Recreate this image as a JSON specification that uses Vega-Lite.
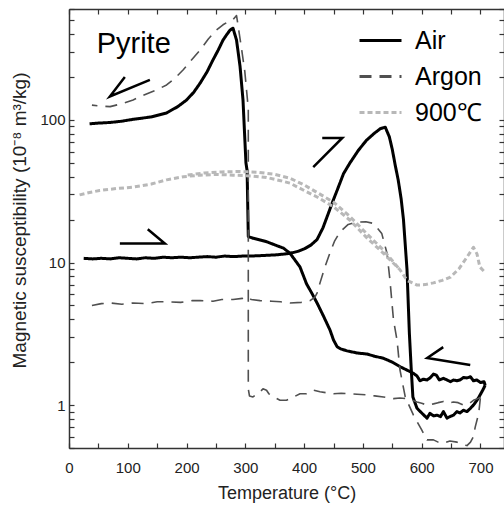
{
  "$schema": "https://vega.github.io/schema/vega-lite/v6.json",
  "width": 435,
  "height": 439,
  "autosize": {"type": "none"},
  "padding": {"left": 69, "top": 9, "right": 0, "bottom": 57},
  "background": "white",
  "config": {
    "font": "Liberation Sans",
    "view": {"stroke": null},
    "axis": {
      "domainColor": "#333333",
      "domainWidth": 1.5,
      "tickColor": "#333333",
      "tickWidth": 1.2,
      "tickSize": -5,
      "labelColor": "#222222",
      "titleColor": "#222222",
      "grid": false,
      "labelFont": "Liberation Sans",
      "titleFont": "Liberation Sans",
      "titleFontWeight": "normal",
      "labelFontSize": 15,
      "titleFontSize": 18,
      "labelFlush": false,
      "labelOverlap": false
    }
  },
  "datasets": {
    "curves": [
      {"m": "Air", "run": "heating", "T": 25, "chi": 10.7},
      {"m": "Air", "run": "heating", "T": 40, "chi": 10.6},
      {"m": "Air", "run": "heating", "T": 55, "chi": 10.7},
      {"m": "Air", "run": "heating", "T": 70, "chi": 10.6},
      {"m": "Air", "run": "heating", "T": 85, "chi": 10.8},
      {"m": "Air", "run": "heating", "T": 100, "chi": 10.7},
      {"m": "Air", "run": "heating", "T": 115, "chi": 10.6},
      {"m": "Air", "run": "heating", "T": 130, "chi": 10.8},
      {"m": "Air", "run": "heating", "T": 145, "chi": 10.7},
      {"m": "Air", "run": "heating", "T": 160, "chi": 10.9},
      {"m": "Air", "run": "heating", "T": 175, "chi": 10.8},
      {"m": "Air", "run": "heating", "T": 190, "chi": 10.9},
      {"m": "Air", "run": "heating", "T": 205, "chi": 10.8},
      {"m": "Air", "run": "heating", "T": 220, "chi": 10.9},
      {"m": "Air", "run": "heating", "T": 235, "chi": 11.0},
      {"m": "Air", "run": "heating", "T": 250, "chi": 10.9},
      {"m": "Air", "run": "heating", "T": 265, "chi": 11.1},
      {"m": "Air", "run": "heating", "T": 280, "chi": 11.0},
      {"m": "Air", "run": "heating", "T": 295, "chi": 11.1},
      {"m": "Air", "run": "heating", "T": 310, "chi": 11.1},
      {"m": "Air", "run": "heating", "T": 330, "chi": 11.2},
      {"m": "Air", "run": "heating", "T": 350, "chi": 11.3},
      {"m": "Air", "run": "heating", "T": 365, "chi": 11.45},
      {"m": "Air", "run": "heating", "T": 376, "chi": 11.6},
      {"m": "Air", "run": "heating", "T": 390, "chi": 12.0},
      {"m": "Air", "run": "heating", "T": 401, "chi": 12.5},
      {"m": "Air", "run": "heating", "T": 412, "chi": 13.3},
      {"m": "Air", "run": "heating", "T": 422, "chi": 14.5},
      {"m": "Air", "run": "heating", "T": 432, "chi": 17.5},
      {"m": "Air", "run": "heating", "T": 441, "chi": 22},
      {"m": "Air", "run": "heating", "T": 449, "chi": 27},
      {"m": "Air", "run": "heating", "T": 456, "chi": 32},
      {"m": "Air", "run": "heating", "T": 467, "chi": 42},
      {"m": "Air", "run": "heating", "T": 478, "chi": 50},
      {"m": "Air", "run": "heating", "T": 492, "chi": 61},
      {"m": "Air", "run": "heating", "T": 506, "chi": 72},
      {"m": "Air", "run": "heating", "T": 520, "chi": 81},
      {"m": "Air", "run": "heating", "T": 530, "chi": 87},
      {"m": "Air", "run": "heating", "T": 538, "chi": 89},
      {"m": "Air", "run": "heating", "T": 545, "chi": 76},
      {"m": "Air", "run": "heating", "T": 550, "chi": 62},
      {"m": "Air", "run": "heating", "T": 555, "chi": 48},
      {"m": "Air", "run": "heating", "T": 560, "chi": 38},
      {"m": "Air", "run": "heating", "T": 565, "chi": 28},
      {"m": "Air", "run": "heating", "T": 569, "chi": 20},
      {"m": "Air", "run": "heating", "T": 575, "chi": 8.9},
      {"m": "Air", "run": "heating", "T": 579, "chi": 3.2},
      {"m": "Air", "run": "heating", "T": 582, "chi": 1.85},
      {"m": "Air", "run": "heating", "T": 585, "chi": 1.14},
      {"m": "Air", "run": "heating", "T": 592, "chi": 0.95},
      {"m": "Air", "run": "heating", "T": 600, "chi": 0.88},
      {"m": "Air", "run": "heating", "T": 609, "chi": 0.81},
      {"m": "Air", "run": "heating", "T": 614, "chi": 0.875},
      {"m": "Air", "run": "heating", "T": 620, "chi": 0.84},
      {"m": "Air", "run": "heating", "T": 626, "chi": 0.85},
      {"m": "Air", "run": "heating", "T": 632, "chi": 0.83},
      {"m": "Air", "run": "heating", "T": 637, "chi": 0.9},
      {"m": "Air", "run": "heating", "T": 643, "chi": 0.81},
      {"m": "Air", "run": "heating", "T": 648, "chi": 0.83},
      {"m": "Air", "run": "heating", "T": 654, "chi": 0.85},
      {"m": "Air", "run": "heating", "T": 660, "chi": 0.9},
      {"m": "Air", "run": "heating", "T": 665, "chi": 0.88},
      {"m": "Air", "run": "heating", "T": 671, "chi": 0.92},
      {"m": "Air", "run": "heating", "T": 677, "chi": 0.9},
      {"m": "Air", "run": "heating", "T": 683, "chi": 0.95},
      {"m": "Air", "run": "heating", "T": 688, "chi": 1.0},
      {"m": "Air", "run": "heating", "T": 694, "chi": 1.08},
      {"m": "Air", "run": "heating", "T": 699, "chi": 1.17},
      {"m": "Air", "run": "heating", "T": 705, "chi": 1.3},
      {"m": "Air", "run": "heating", "T": 708, "chi": 1.38},
      {"m": "Air", "run": "cooling", "T": 708, "chi": 1.38},
      {"m": "Air", "run": "cooling", "T": 706, "chi": 1.46},
      {"m": "Air", "run": "cooling", "T": 700, "chi": 1.44},
      {"m": "Air", "run": "cooling", "T": 694, "chi": 1.5},
      {"m": "Air", "run": "cooling", "T": 688, "chi": 1.48},
      {"m": "Air", "run": "cooling", "T": 683, "chi": 1.58},
      {"m": "Air", "run": "cooling", "T": 677, "chi": 1.55},
      {"m": "Air", "run": "cooling", "T": 671, "chi": 1.56},
      {"m": "Air", "run": "cooling", "T": 665, "chi": 1.5},
      {"m": "Air", "run": "cooling", "T": 660, "chi": 1.48},
      {"m": "Air", "run": "cooling", "T": 654, "chi": 1.5},
      {"m": "Air", "run": "cooling", "T": 649, "chi": 1.46},
      {"m": "Air", "run": "cooling", "T": 643, "chi": 1.5},
      {"m": "Air", "run": "cooling", "T": 637, "chi": 1.54},
      {"m": "Air", "run": "cooling", "T": 630, "chi": 1.5},
      {"m": "Air", "run": "cooling", "T": 625, "chi": 1.62},
      {"m": "Air", "run": "cooling", "T": 620, "chi": 1.65},
      {"m": "Air", "run": "cooling", "T": 614, "chi": 1.55},
      {"m": "Air", "run": "cooling", "T": 609, "chi": 1.5},
      {"m": "Air", "run": "cooling", "T": 603, "chi": 1.52},
      {"m": "Air", "run": "cooling", "T": 597, "chi": 1.48},
      {"m": "Air", "run": "cooling", "T": 592, "chi": 1.6},
      {"m": "Air", "run": "cooling", "T": 586, "chi": 1.67},
      {"m": "Air", "run": "cooling", "T": 575, "chi": 1.76},
      {"m": "Air", "run": "cooling", "T": 563, "chi": 1.86},
      {"m": "Air", "run": "cooling", "T": 550, "chi": 2.0},
      {"m": "Air", "run": "cooling", "T": 535, "chi": 2.13},
      {"m": "Air", "run": "cooling", "T": 520, "chi": 2.2},
      {"m": "Air", "run": "cooling", "T": 507, "chi": 2.28},
      {"m": "Air", "run": "cooling", "T": 490, "chi": 2.32},
      {"m": "Air", "run": "cooling", "T": 473, "chi": 2.4},
      {"m": "Air", "run": "cooling", "T": 462, "chi": 2.48},
      {"m": "Air", "run": "cooling", "T": 456, "chi": 2.57},
      {"m": "Air", "run": "cooling", "T": 450, "chi": 2.86},
      {"m": "Air", "run": "cooling", "T": 444, "chi": 3.36},
      {"m": "Air", "run": "cooling", "T": 433, "chi": 4.2},
      {"m": "Air", "run": "cooling", "T": 422, "chi": 5.2},
      {"m": "Air", "run": "cooling", "T": 413, "chi": 6.1},
      {"m": "Air", "run": "cooling", "T": 404, "chi": 7.1},
      {"m": "Air", "run": "cooling", "T": 393, "chi": 9.3},
      {"m": "Air", "run": "cooling", "T": 376, "chi": 11.6},
      {"m": "Air", "run": "cooling", "T": 365, "chi": 12.6},
      {"m": "Air", "run": "cooling", "T": 350, "chi": 13.3},
      {"m": "Air", "run": "cooling", "T": 336, "chi": 14.0},
      {"m": "Air", "run": "cooling", "T": 325, "chi": 14.4},
      {"m": "Air", "run": "cooling", "T": 313, "chi": 14.8},
      {"m": "Air", "run": "cooling", "T": 305, "chi": 15.2},
      {"m": "Air", "run": "cooling", "T": 303, "chi": 44},
      {"m": "Air", "run": "cooling", "T": 301, "chi": 50},
      {"m": "Air", "run": "cooling", "T": 296, "chi": 138},
      {"m": "Air", "run": "cooling", "T": 291, "chi": 237},
      {"m": "Air", "run": "cooling", "T": 285, "chi": 363},
      {"m": "Air", "run": "cooling", "T": 279, "chi": 440},
      {"m": "Air", "run": "cooling", "T": 274, "chi": 427},
      {"m": "Air", "run": "cooling", "T": 268, "chi": 395},
      {"m": "Air", "run": "cooling", "T": 262, "chi": 363},
      {"m": "Air", "run": "cooling", "T": 254, "chi": 310},
      {"m": "Air", "run": "cooling", "T": 245, "chi": 264},
      {"m": "Air", "run": "cooling", "T": 235, "chi": 218},
      {"m": "Air", "run": "cooling", "T": 223, "chi": 181},
      {"m": "Air", "run": "cooling", "T": 212, "chi": 156},
      {"m": "Air", "run": "cooling", "T": 200, "chi": 138},
      {"m": "Air", "run": "cooling", "T": 185, "chi": 124},
      {"m": "Air", "run": "cooling", "T": 166, "chi": 112},
      {"m": "Air", "run": "cooling", "T": 140, "chi": 105},
      {"m": "Air", "run": "cooling", "T": 109, "chi": 101},
      {"m": "Air", "run": "cooling", "T": 90, "chi": 98},
      {"m": "Air", "run": "cooling", "T": 70, "chi": 96},
      {"m": "Air", "run": "cooling", "T": 50, "chi": 95},
      {"m": "Air", "run": "cooling", "T": 35, "chi": 94},

      {"m": "Argon", "run": "heating", "T": 39, "chi": 5.0},
      {"m": "Argon", "run": "heating", "T": 55, "chi": 5.15},
      {"m": "Argon", "run": "heating", "T": 70, "chi": 5.2},
      {"m": "Argon", "run": "heating", "T": 90, "chi": 5.1},
      {"m": "Argon", "run": "heating", "T": 109, "chi": 5.2},
      {"m": "Argon", "run": "heating", "T": 130, "chi": 5.15},
      {"m": "Argon", "run": "heating", "T": 150, "chi": 5.3},
      {"m": "Argon", "run": "heating", "T": 166, "chi": 5.3},
      {"m": "Argon", "run": "heating", "T": 190, "chi": 5.25},
      {"m": "Argon", "run": "heating", "T": 210, "chi": 5.4},
      {"m": "Argon", "run": "heating", "T": 223, "chi": 5.4},
      {"m": "Argon", "run": "heating", "T": 245, "chi": 5.35},
      {"m": "Argon", "run": "heating", "T": 260, "chi": 5.5},
      {"m": "Argon", "run": "heating", "T": 279, "chi": 5.5},
      {"m": "Argon", "run": "heating", "T": 295, "chi": 5.6},
      {"m": "Argon", "run": "heating", "T": 302, "chi": 5.75},
      {"m": "Argon", "run": "heating", "T": 310, "chi": 5.5},
      {"m": "Argon", "run": "heating", "T": 325, "chi": 5.4},
      {"m": "Argon", "run": "heating", "T": 345, "chi": 5.35},
      {"m": "Argon", "run": "heating", "T": 360, "chi": 5.3},
      {"m": "Argon", "run": "heating", "T": 376, "chi": 5.2},
      {"m": "Argon", "run": "heating", "T": 395, "chi": 5.25},
      {"m": "Argon", "run": "heating", "T": 410, "chi": 5.4},
      {"m": "Argon", "run": "heating", "T": 418, "chi": 5.7},
      {"m": "Argon", "run": "heating", "T": 422, "chi": 6.1},
      {"m": "Argon", "run": "heating", "T": 427, "chi": 7.2},
      {"m": "Argon", "run": "heating", "T": 435, "chi": 9.2},
      {"m": "Argon", "run": "heating", "T": 444, "chi": 11.7},
      {"m": "Argon", "run": "heating", "T": 452, "chi": 14.2},
      {"m": "Argon", "run": "heating", "T": 461, "chi": 16.4},
      {"m": "Argon", "run": "heating", "T": 475, "chi": 18.5},
      {"m": "Argon", "run": "heating", "T": 490, "chi": 19.2},
      {"m": "Argon", "run": "heating", "T": 505, "chi": 19.3},
      {"m": "Argon", "run": "heating", "T": 518, "chi": 18.8},
      {"m": "Argon", "run": "heating", "T": 532, "chi": 16.0},
      {"m": "Argon", "run": "heating", "T": 541, "chi": 11.6},
      {"m": "Argon", "run": "heating", "T": 546, "chi": 7.5},
      {"m": "Argon", "run": "heating", "T": 552, "chi": 3.95},
      {"m": "Argon", "run": "heating", "T": 558, "chi": 2.86},
      {"m": "Argon", "run": "heating", "T": 563, "chi": 1.77},
      {"m": "Argon", "run": "heating", "T": 572, "chi": 1.14},
      {"m": "Argon", "run": "heating", "T": 586, "chi": 0.85},
      {"m": "Argon", "run": "heating", "T": 600, "chi": 0.67},
      {"m": "Argon", "run": "heating", "T": 609, "chi": 0.57},
      {"m": "Argon", "run": "heating", "T": 620, "chi": 0.57},
      {"m": "Argon", "run": "heating", "T": 628, "chi": 0.55},
      {"m": "Argon", "run": "heating", "T": 637, "chi": 0.54},
      {"m": "Argon", "run": "heating", "T": 648, "chi": 0.56},
      {"m": "Argon", "run": "heating", "T": 660, "chi": 0.55},
      {"m": "Argon", "run": "heating", "T": 668, "chi": 0.53},
      {"m": "Argon", "run": "heating", "T": 677, "chi": 0.52},
      {"m": "Argon", "run": "heating", "T": 683, "chi": 0.55},
      {"m": "Argon", "run": "heating", "T": 688, "chi": 0.6},
      {"m": "Argon", "run": "heating", "T": 691, "chi": 0.7},
      {"m": "Argon", "run": "heating", "T": 697, "chi": 0.875},
      {"m": "Argon", "run": "heating", "T": 700, "chi": 1.14},
      {"m": "Argon", "run": "cooling", "T": 700, "chi": 1.14},
      {"m": "Argon", "run": "cooling", "T": 698, "chi": 1.12},
      {"m": "Argon", "run": "cooling", "T": 688, "chi": 1.08},
      {"m": "Argon", "run": "cooling", "T": 680, "chi": 1.02},
      {"m": "Argon", "run": "cooling", "T": 671, "chi": 1.0},
      {"m": "Argon", "run": "cooling", "T": 662, "chi": 1.04},
      {"m": "Argon", "run": "cooling", "T": 654, "chi": 1.05},
      {"m": "Argon", "run": "cooling", "T": 645, "chi": 1.03},
      {"m": "Argon", "run": "cooling", "T": 637, "chi": 1.06},
      {"m": "Argon", "run": "cooling", "T": 628, "chi": 1.04},
      {"m": "Argon", "run": "cooling", "T": 620, "chi": 1.02},
      {"m": "Argon", "run": "cooling", "T": 609, "chi": 1.0},
      {"m": "Argon", "run": "cooling", "T": 600, "chi": 1.03},
      {"m": "Argon", "run": "cooling", "T": 592, "chi": 1.05},
      {"m": "Argon", "run": "cooling", "T": 584, "chi": 1.08},
      {"m": "Argon", "run": "cooling", "T": 575, "chi": 1.11},
      {"m": "Argon", "run": "cooling", "T": 563, "chi": 1.12},
      {"m": "Argon", "run": "cooling", "T": 552, "chi": 1.11},
      {"m": "Argon", "run": "cooling", "T": 535, "chi": 1.14},
      {"m": "Argon", "run": "cooling", "T": 520, "chi": 1.16},
      {"m": "Argon", "run": "cooling", "T": 507, "chi": 1.18},
      {"m": "Argon", "run": "cooling", "T": 490, "chi": 1.19},
      {"m": "Argon", "run": "cooling", "T": 478, "chi": 1.2},
      {"m": "Argon", "run": "cooling", "T": 463, "chi": 1.21},
      {"m": "Argon", "run": "cooling", "T": 450, "chi": 1.2},
      {"m": "Argon", "run": "cooling", "T": 438, "chi": 1.22},
      {"m": "Argon", "run": "cooling", "T": 427, "chi": 1.24},
      {"m": "Argon", "run": "cooling", "T": 416, "chi": 1.27},
      {"m": "Argon", "run": "cooling", "T": 410, "chi": 1.22},
      {"m": "Argon", "run": "cooling", "T": 404, "chi": 1.2},
      {"m": "Argon", "run": "cooling", "T": 393, "chi": 1.2},
      {"m": "Argon", "run": "cooling", "T": 382, "chi": 1.14},
      {"m": "Argon", "run": "cooling", "T": 370, "chi": 1.08},
      {"m": "Argon", "run": "cooling", "T": 359, "chi": 1.08},
      {"m": "Argon", "run": "cooling", "T": 348, "chi": 1.14},
      {"m": "Argon", "run": "cooling", "T": 340, "chi": 1.2},
      {"m": "Argon", "run": "cooling", "T": 336, "chi": 1.27},
      {"m": "Argon", "run": "cooling", "T": 330, "chi": 1.3},
      {"m": "Argon", "run": "cooling", "T": 325, "chi": 1.24},
      {"m": "Argon", "run": "cooling", "T": 318, "chi": 1.18},
      {"m": "Argon", "run": "cooling", "T": 313, "chi": 1.14},
      {"m": "Argon", "run": "cooling", "T": 307, "chi": 1.16},
      {"m": "Argon", "run": "cooling", "T": 305, "chi": 1.3},
      {"m": "Argon", "run": "cooling", "T": 305, "chi": 120},
      {"m": "Argon", "run": "cooling", "T": 299, "chi": 220},
      {"m": "Argon", "run": "cooling", "T": 293, "chi": 327},
      {"m": "Argon", "run": "cooling", "T": 285, "chi": 540},
      {"m": "Argon", "run": "cooling", "T": 279, "chi": 505},
      {"m": "Argon", "run": "cooling", "T": 274, "chi": 498},
      {"m": "Argon", "run": "cooling", "T": 262, "chi": 465},
      {"m": "Argon", "run": "cooling", "T": 251, "chi": 428},
      {"m": "Argon", "run": "cooling", "T": 237, "chi": 370},
      {"m": "Argon", "run": "cooling", "T": 223, "chi": 309},
      {"m": "Argon", "run": "cooling", "T": 208, "chi": 262},
      {"m": "Argon", "run": "cooling", "T": 194, "chi": 224},
      {"m": "Argon", "run": "cooling", "T": 180, "chi": 196},
      {"m": "Argon", "run": "cooling", "T": 166, "chi": 176},
      {"m": "Argon", "run": "cooling", "T": 150, "chi": 163},
      {"m": "Argon", "run": "cooling", "T": 137, "chi": 155},
      {"m": "Argon", "run": "cooling", "T": 120, "chi": 145},
      {"m": "Argon", "run": "cooling", "T": 109, "chi": 138},
      {"m": "Argon", "run": "cooling", "T": 90, "chi": 130},
      {"m": "Argon", "run": "cooling", "T": 70, "chi": 124},
      {"m": "Argon", "run": "cooling", "T": 55, "chi": 125},
      {"m": "Argon", "run": "cooling", "T": 39, "chi": 127},

      {"m": "900℃", "run": "heating", "T": 18, "chi": 29.8},
      {"m": "900℃", "run": "heating", "T": 35, "chi": 31},
      {"m": "900℃", "run": "heating", "T": 52, "chi": 32},
      {"m": "900℃", "run": "heating", "T": 80, "chi": 33},
      {"m": "900℃", "run": "heating", "T": 109, "chi": 33.8},
      {"m": "900℃", "run": "heating", "T": 140, "chi": 35.5},
      {"m": "900℃", "run": "heating", "T": 166, "chi": 38},
      {"m": "900℃", "run": "heating", "T": 195, "chi": 40},
      {"m": "900℃", "run": "heating", "T": 223, "chi": 41},
      {"m": "900℃", "run": "heating", "T": 250, "chi": 41.5},
      {"m": "900℃", "run": "heating", "T": 279, "chi": 41},
      {"m": "900℃", "run": "heating", "T": 310, "chi": 40.5},
      {"m": "900℃", "run": "heating", "T": 336, "chi": 39.5},
      {"m": "900℃", "run": "heating", "T": 360, "chi": 37.5},
      {"m": "900℃", "run": "heating", "T": 376, "chi": 36},
      {"m": "900℃", "run": "heating", "T": 400, "chi": 32},
      {"m": "900℃", "run": "heating", "T": 422, "chi": 28.8},
      {"m": "900℃", "run": "heating", "T": 450, "chi": 24.6},
      {"m": "900℃", "run": "heating", "T": 478, "chi": 19.8},
      {"m": "900℃", "run": "heating", "T": 506, "chi": 15},
      {"m": "900℃", "run": "heating", "T": 535, "chi": 11.6},
      {"m": "900℃", "run": "heating", "T": 563, "chi": 8.9},
      {"m": "900℃", "run": "heating", "T": 575, "chi": 7.5},
      {"m": "900℃", "run": "heating", "T": 592, "chi": 6.95},
      {"m": "900℃", "run": "heating", "T": 606, "chi": 7.0},
      {"m": "900℃", "run": "heating", "T": 620, "chi": 7.2},
      {"m": "900℃", "run": "heating", "T": 635, "chi": 7.5},
      {"m": "900℃", "run": "heating", "T": 649, "chi": 7.9},
      {"m": "900℃", "run": "heating", "T": 663, "chi": 9.0},
      {"m": "900℃", "run": "heating", "T": 677, "chi": 10.9},
      {"m": "900℃", "run": "heating", "T": 688, "chi": 12.8},
      {"m": "900℃", "run": "heating", "T": 694, "chi": 11.5},
      {"m": "900℃", "run": "heating", "T": 699, "chi": 9.3},
      {"m": "900℃", "run": "heating", "T": 708, "chi": 8.5},
      {"m": "900℃", "run": "cooling", "T": 560, "chi": 9.2},
      {"m": "900℃", "run": "cooling", "T": 535, "chi": 12.2},
      {"m": "900℃", "run": "cooling", "T": 506, "chi": 16},
      {"m": "900℃", "run": "cooling", "T": 478, "chi": 21},
      {"m": "900℃", "run": "cooling", "T": 450, "chi": 26.5},
      {"m": "900℃", "run": "cooling", "T": 422, "chi": 31},
      {"m": "900℃", "run": "cooling", "T": 400, "chi": 35},
      {"m": "900℃", "run": "cooling", "T": 376, "chi": 39},
      {"m": "900℃", "run": "cooling", "T": 350, "chi": 41.5},
      {"m": "900℃", "run": "cooling", "T": 320, "chi": 43},
      {"m": "900℃", "run": "cooling", "T": 290, "chi": 43.5},
      {"m": "900℃", "run": "cooling", "T": 260, "chi": 43.2},
      {"m": "900℃", "run": "cooling", "T": 230, "chi": 42.5},
      {"m": "900℃", "run": "cooling", "T": 200, "chi": 41}
    ],
    "arrows": [
      {"arrow": "cooling pyrite", "T": 137.6, "chi": 191},
      {"arrow": "cooling pyrite", "T": 69.5, "chi": 146},
      {"arrow": "cooling pyrite", "T": 95, "chi": 200},
      {"arrow": "heating low", "T": 86.5, "chi": 13.6},
      {"arrow": "heating low", "T": 163, "chi": 13.6},
      {"arrow": "heating low", "T": 134, "chi": 17.1},
      {"arrow": "heating rise", "T": 430.8, "chi": 74.8},
      {"arrow": "heating rise", "T": 464.9, "chi": 74.8},
      {"arrow": "heating rise", "T": 415.5, "chi": 46.7},
      {"arrow": "cooling high", "T": 636.6, "chi": 2.55},
      {"arrow": "cooling high", "T": 609.4, "chi": 2.14},
      {"arrow": "cooling high", "T": 682.6, "chi": 1.91}
    ]
  },
  "layer": [
    {
      "data": {"name": "curves"},
      "mark": {"type": "line", "clip": true, "strokeCap": "butt", "strokeJoin": "round"},
      "encoding": {
        "x": {
          "field": "T",
          "type": "quantitative",
          "scale": {"domain": [0, 740], "nice": false, "zero": false},
          "axis": {
            "orient": "bottom",
            "values": [0, 50, 100, 150, 200, 250, 300, 350, 400, 450, 500, 550, 600, 650, 700],
            "labelExpr": "datum.value % 100 == 0 ? datum.label : ''",
            "labelPadding": 17,
            "title": "Temperature (°C)",
            "titlePadding": 9
          }
        },
        "y": {
          "field": "chi",
          "type": "quantitative",
          "scale": {"type": "log", "domain": [0.5, 600], "nice": false},
          "axis": {
            "orient": "left",
            "values": [0.5, 0.6, 0.7, 0.8, 0.9, 1, 2, 3, 4, 5, 6, 7, 8, 9, 10, 20, 30, 40, 50, 60, 70, 80, 90, 100, 200, 300, 400, 500, 600],
            "labelExpr": "datum.value == 1 ? '1' : datum.value == 10 ? '10' : datum.value == 100 ? '100' : ''",
            "labelPadding": 9,
            "title": "Magnetic susceptibility (10⁻⁸ m³/kg)",
            "titleFontSize": 19,
            "titlePadding": 10,
            "titleY": 211
          }
        },
        "color": {
          "field": "m",
          "type": "nominal",
          "scale": {"domain": ["Air", "Argon", "900℃"], "range": ["#000000", "#505050", "#b8b8b8"]},
          "legend": {
            "title": null,
            "orient": "none",
            "legendX": 289,
            "legendY": 9,
            "padding": 0,
            "symbolType": "stroke",
            "symbolSize": 1764,
            "symbolStrokeWidth": 3,
            "labelFontSize": 25,
            "labelFont": "Liberation Sans",
            "labelColor": "#000000",
            "labelOffset": 12,
            "rowPadding": -7
          }
        },
        "strokeDash": {
          "field": "m",
          "type": "nominal",
          "scale": {"domain": ["Air", "Argon", "900℃"], "range": [[1, 0], [12, 8], [5, 3]]},
          "legend": {
            "title": null,
            "orient": "none",
            "legendX": 289,
            "legendY": 9,
            "padding": 0,
            "symbolType": "stroke",
            "symbolSize": 1764,
            "symbolStrokeWidth": 3,
            "labelFontSize": 25,
            "labelFont": "Liberation Sans",
            "labelColor": "#000000",
            "labelOffset": 12,
            "rowPadding": -7
          }
        },
        "strokeWidth": {"condition": {"test": "datum.m === 'Argon'", "value": 1.6}, "value": 3},
        "detail": {"field": "run"},
        "order": {"value": null}
      }
    },
    {
      "data": {"name": "arrows"},
      "mark": {"type": "line", "color": "#000000", "strokeWidth": 2.5, "strokeCap": "butt", "strokeJoin": "miter"},
      "encoding": {
        "x": {"field": "T", "type": "quantitative", "axis": null},
        "y": {"field": "chi", "type": "quantitative", "axis": null},
        "detail": {"field": "arrow"},
        "order": {"value": null}
      }
    },
    {
      "data": {"values": [{}]},
      "mark": {"type": "text", "text": "Pyrite", "fontSize": 29, "align": "left", "baseline": "alphabetic", "color": "#000000", "font": "Liberation Sans"},
      "encoding": {
        "x": {
          "datum": 47,
          "type": "quantitative",
          "axis": {
            "orient": "top",
            "values": [0, 50, 100, 150, 200, 250, 300, 350, 400, 450, 500, 550, 600, 650, 700],
            "labels": false,
            "title": null
          }
        },
        "y": {
          "datum": 295,
          "type": "quantitative",
          "axis": {
            "orient": "right",
            "values": [0.5, 0.6, 0.7, 0.8, 0.9, 1, 2, 3, 4, 5, 6, 7, 8, 9, 10, 20, 30, 40, 50, 60, 70, 80, 90, 100, 200, 300, 400, 500, 600],
            "labels": false,
            "title": null
          }
        }
      }
    }
  ],
  "resolve": {"axis": {"x": "independent", "y": "independent"}}
}
